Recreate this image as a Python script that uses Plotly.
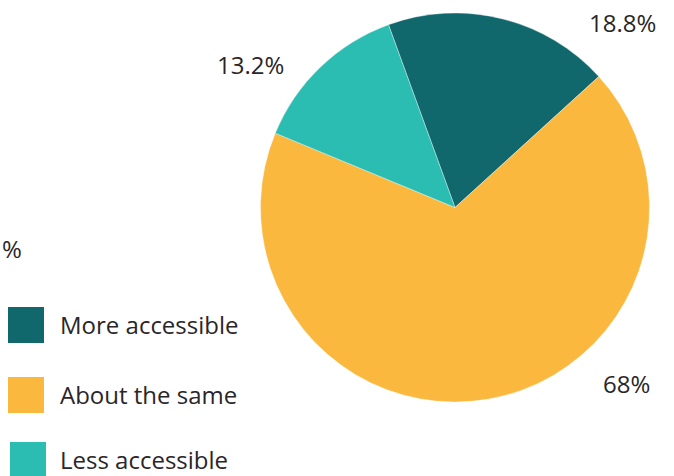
import plotly.graph_objects as go

categories = ["More accessible", "About the same", "Less accessible"]
values = [18.8, 68, 13.2]
value_labels = ["18.8%", "68%", "13.2%"]
colors = ["#10676C", "#FAB83F", "#2BBCB2"]

fig = go.Figure()
fig.add_trace(go.Pie(
    labels=categories,
    values=values,
    marker=dict(colors=colors, line=dict(color="rgba(255,255,255,0.35)", width=1)),
    sort=False,
    direction="clockwise",
    rotation=-20,
    textinfo="none",
    hoverinfo="label+percent",
    showlegend=False,
    domain=dict(x=[260/674, 650/674], y=[1-402/476, 1-13/476]),
))

font = dict(family="'Open Sans', Lato, sans-serif", size=24, color="#2A2627")

# value labels around pie
label_pos = [(622, 22), (626, 383), (250, 65)]
for txt, (px, py) in zip(value_labels, label_pos):
    fig.add_annotation(x=px/674, y=1-py/476, xref="paper", yref="paper",
                       text=txt, showarrow=False, font=font,
                       xanchor="center", yanchor="middle")

# "%" text
fig.add_annotation(x=0/674, y=1-248/476, xref="paper", yref="paper", text="%",
                   showarrow=False, font=font, xanchor="left", yanchor="middle")

# custom legend
rows = [325, 395, 460]
sq_x = [8, 8, 10]
for cat, col, ry, sx in zip(categories, colors, rows, sq_x):
    fig.add_shape(type="rect", xref="paper", yref="paper",
                  x0=sx/674, x1=(sx+36)/674, y0=1-(ry+18)/476, y1=1-(ry-18)/476,
                  fillcolor=col, line=dict(width=0))
    fig.add_annotation(x=58/674, y=1-(ry-1)/476, xref="paper", yref="paper", text=cat,
                       showarrow=False, font=font, xanchor="left", yanchor="middle")

fig.update_layout(
    width=674, height=476,
    margin=dict(l=0, r=0, t=0, b=0),
    paper_bgcolor="white", plot_bgcolor="white",
)

fig.write_html("out.html")
